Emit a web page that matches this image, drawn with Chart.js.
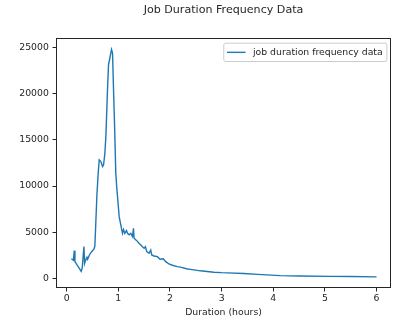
<!DOCTYPE html>
<html>
<head>
<meta charset="utf-8">
<title>Job Duration Frequency Data</title>
<script src="https://cdn.jsdelivr.net/npm/chart.js@4.4.0/dist/chart.umd.min.js"></script>
<style>
  html, body { margin: 0; padding: 0; background: #fff; }
</style>
</head>
<body>
<canvas id="durationChart" width="400" height="326"></canvas>
<script>
// job duration (hours) and how many jobs ran that long
const durations = [
  0.09, 0.13, 0.147, 0.16, 0.2, 0.245, 0.28, 0.30, 0.334, 0.347,
  0.367, 0.392, 0.405, 0.44, 0.483, 0.527, 0.545, 0.56, 0.585, 0.61,
  0.63, 0.662, 0.695, 0.714, 0.74, 0.76, 0.79, 0.81, 0.836, 0.868,
  0.888, 0.907, 0.93, 0.95, 0.97, 0.99, 1.016, 1.048, 1.08, 1.10,
  1.125, 1.158, 1.178, 1.21, 1.24, 1.274, 1.293, 1.305, 1.357, 1.40,
  1.434, 1.467, 1.50, 1.525, 1.55, 1.595, 1.627, 1.647, 1.69, 1.757,
  1.807, 1.87, 1.917, 1.98, 2.046, 2.14, 2.2, 2.34, 2.4, 2.59,
  2.85, 3.0, 3.11, 3.43, 3.7, 4.14, 4.5, 5.1, 5.5, 6.0
];
const counts = [
  2150, 2000, 3030, 1840, 1480, 1120, 800, 1120, 3460, 1660,
  2020, 2310, 2100, 2560, 2920, 3180, 3500, 5500, 9000, 11400,
  12830, 12650, 12110, 12290, 13560, 15500, 20400, 23100, 23830, 24760,
  24370, 20400, 16000, 11500, 9800, 8500, 6700, 5800, 4900, 5300,
  4900, 5200, 4900, 4750, 4900, 4550, 5450, 4370, 4110, 3830,
  3640, 3460, 3290, 3460, 2920, 2750, 3100, 2560, 2450, 2380,
  2100, 2150, 1840, 1590, 1450, 1300, 1250, 1050, 1000, 850,
  700, 650, 630, 560, 470, 330, 290, 250, 230, 200
];
const xTicks = [0, 1, 2, 3, 4, 5, 6];
const yTicks = [0, 5000, 10000, 15000, 20000, 25000];

const chartTitle = 'Job Duration Frequency Data';
const seriesLabel = 'job duration frequency data';
const lineColor = '#1f77b4';
const FONT = 'DejaVu Sans';

// spines, title and a boxed legend drawn on top of the plot
const framePlugin = {
  id: 'frame',
  afterDraw(chart) {
    const ctx = chart.ctx;
    const a = chart.chartArea;
    ctx.save();
    ctx.strokeStyle = '#262626';
    ctx.lineWidth = 1;
    ctx.strokeRect(Math.round(a.left) + 0.5, Math.round(a.top) + 0.5,
      Math.round(a.right - a.left) - 1, Math.round(a.bottom - a.top) - 1);

    ctx.fillStyle = '#262626';
    ctx.font = '11.1px "' + FONT + '"';
    ctx.textAlign = 'center';
    ctx.textBaseline = 'middle';
    ctx.fillText(chartTitle, (a.left + a.right) / 2, 10);

    // legend box, upper right
    ctx.font = '9.3px "' + FONT + '"';
    const tw = ctx.measureText(seriesLabel).width;
    const pad = 3.7;
    const boxR = a.right - 4.6;
    const boxT = a.top + 4.7;
    const boxW = pad + 18.6 + 7.4 + tw + pad;
    const boxH = 18.3;
    const boxL = boxR - boxW;
    ctx.beginPath();
    ctx.roundRect(boxL + 0.5, boxT + 0.5, boxW, boxH, 2);
    ctx.fillStyle = 'rgba(255,255,255,0.8)';
    ctx.fill();
    ctx.strokeStyle = '#cccccc';
    ctx.lineWidth = 1;
    ctx.stroke();
    const midY = boxT + boxH / 2 + 0.5;
    ctx.beginPath();
    ctx.moveTo(boxL + pad, midY);
    ctx.lineTo(boxL + pad + 18.6, midY);
    ctx.strokeStyle = lineColor;
    ctx.lineWidth = 1.4;
    ctx.stroke();
    ctx.fillStyle = '#262626';
    ctx.textAlign = 'left';
    ctx.fillText(seriesLabel, boxL + pad + 18.6 + 7.4, midY);
    ctx.restore();
  }
};

const ctx = document.getElementById('durationChart').getContext('2d');
new Chart(ctx, {
  type: 'line',
  data: {
    datasets: [{
      label: seriesLabel,
      data: durations.map((d, i) => ({ x: d, y: counts[i] })),
      borderColor: lineColor,
      borderWidth: 1.4,
      pointRadius: 0,
      tension: 0,
      fill: false
    }]
  },
  options: {
    responsive: false,
    animation: false,
    devicePixelRatio: 1,
    layout: { padding: { top: 38, right: 9, left: 0, bottom: 0 } },
    plugins: {
      legend: { display: false },
      title: { display: false },
      tooltip: { enabled: false }
    },
    scales: {
      x: {
        type: 'linear',
        min: -0.207,
        max: 6.28,
        afterBuildTicks: scale => { scale.ticks = xTicks.map(v => ({ value: v })); },
        afterFit: scale => { scale.height = 38; },
        border: { display: false },
        grid: { drawOnChartArea: false, drawTicks: true, tickLength: 3.5, tickColor: '#262626', tickWidth: 1 },
        ticks: { color: '#262626', font: { family: FONT, size: 9.3 }, padding: 2, maxRotation: 0 },
        title: {
          display: true,
          text: 'Duration (hours)',
          color: '#262626',
          font: { family: FONT, size: 9.3 },
          padding: { top: 0, bottom: 7.7 }
        }
      },
      y: {
        type: 'linear',
        min: -1005,
        max: 25990,
        afterBuildTicks: scale => { scale.ticks = yTicks.map(v => ({ value: v })); },
        afterFit: scale => { scale.width = 56; },
        border: { display: false },
        grid: { drawOnChartArea: false, drawTicks: true, tickLength: 3.5, tickColor: '#262626', tickWidth: 1 },
        ticks: { color: '#262626', font: { family: FONT, size: 9.3 }, padding: 3.7, callback: v => String(v) }
      }
    }
  },
  plugins: [framePlugin]
});
</script>
</body>
</html>
